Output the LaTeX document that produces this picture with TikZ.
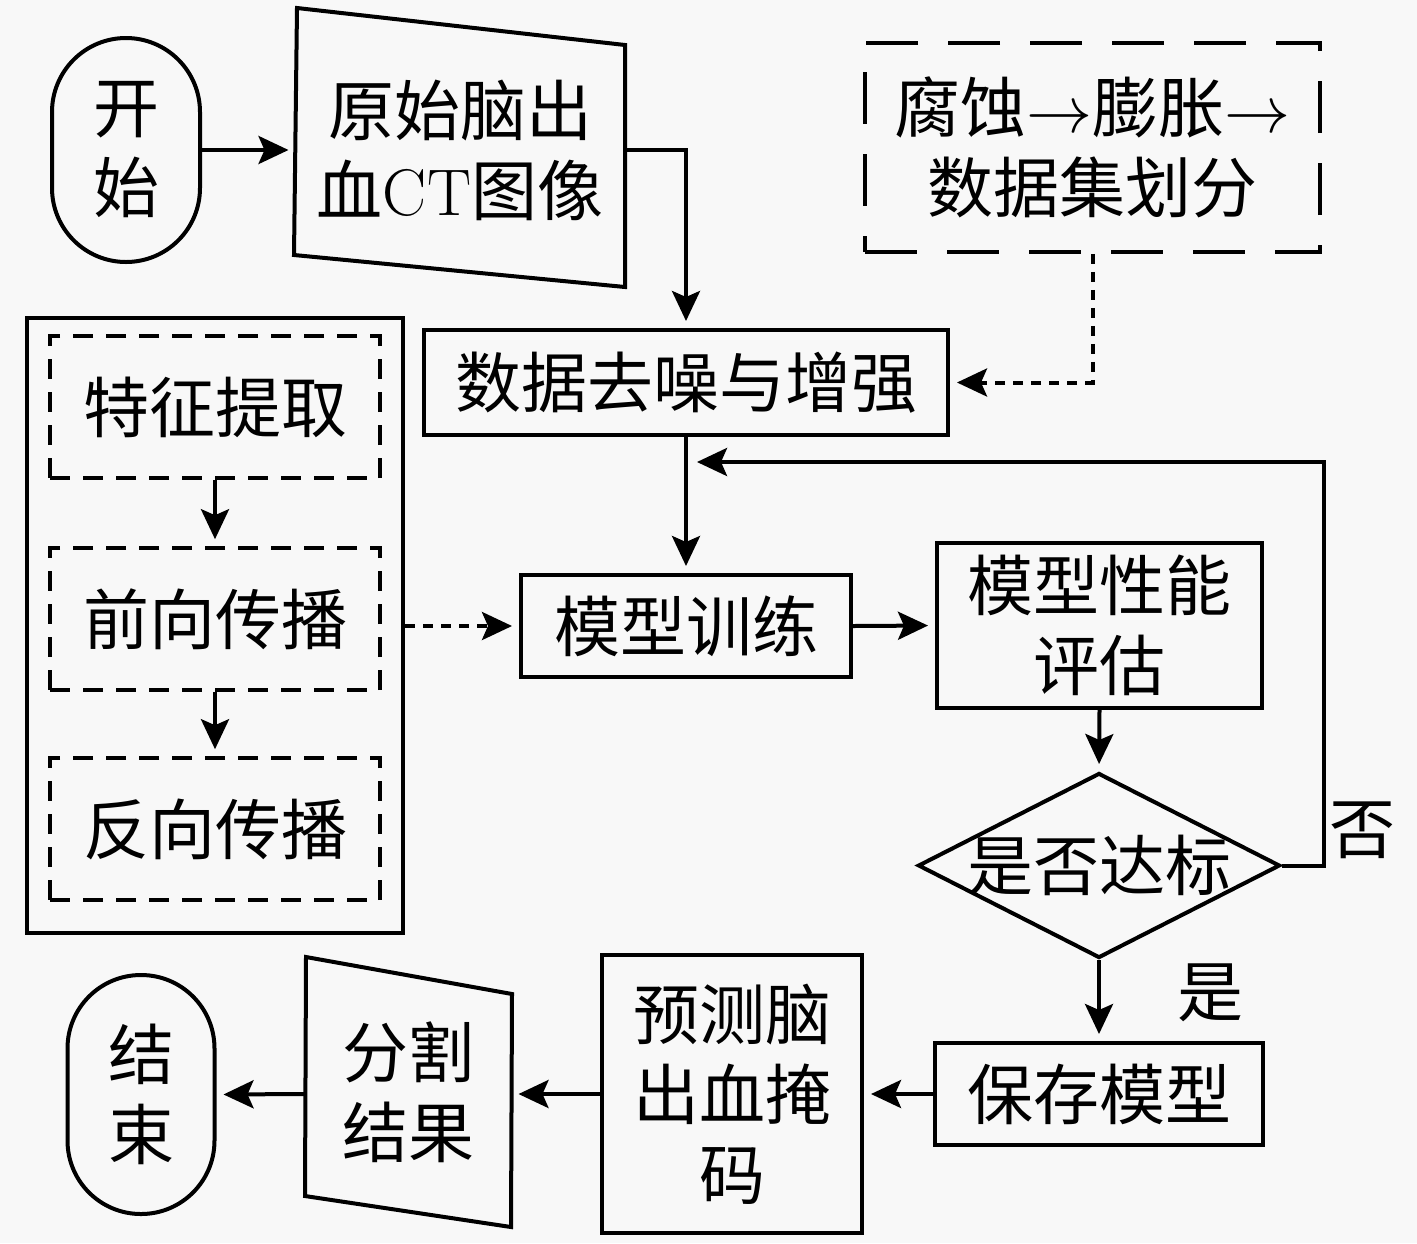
\RequirePackage{fix-cm}
\documentclass[tikz,border=0pt]{standalone}
\usepackage{fontspec}
\newfontfamily\cjk{Noto Sans CJK SC}
\usetikzlibrary{arrows.meta,shapes.geometric}
\definecolor{bg}{HTML}{F8F8F8}
\begin{document}
\begin{tikzpicture}[x=0.5pt,y=-0.5pt,
  every node/.style={font=\fontsize{33}{40}\selectfont\cjk, align=center, inner sep=0pt},
  lw/.style={line width=2pt},
  box/.style={draw, lw, rectangle},
  dbox/.style={draw, line width=1.8pt, rectangle, dash pattern=on 10pt off 6.5pt},
  abox/.style={draw, line width=1.8pt, rectangle, dash pattern=on 26pt off 15pt},
  arr/.style={lw, -{Stealth[length=15pt,width=14pt,inset=3pt]}, shorten >=3.5pt},
  darr/.style={arr, dash pattern=on 5pt off 4pt},
  lbl/.style={font=\fontsize{33}{40}\selectfont\cjk}]
\useasboundingbox[fill=bg] (0,0) rectangle (1417,1243);

% start / end
\node[box, minimum width=74pt, minimum height=112pt, rounded corners=37pt] (start) at (126,150) {开\\始};
\node[box, minimum width=73.5pt, minimum height=119.5pt, rounded corners=36.7pt] (end) at (141,1094.5) {结\\束};

% input trapezoid
\draw[lw] (297,8) -- (625,45) -- (625,287) -- (294,255) -- cycle;
\node (t1) at (460,150) {原始脑出\\血{\rmfamily CT}图像};
\coordinate (t1w) at (295.5,150);
\coordinate (t1e) at (625,150);

% augmentation (dashed)
\node[abox, minimum width=227.5pt, minimum height=104.5pt] (aug) at (1092.5,147.5) {腐蚀$\rightarrow$膨胀$\rightarrow$\\数据集划分};

% denoise
\node[box, minimum width=262pt, minimum height=52.5pt] (den) at (686,382.5) {数据去噪与增强};

% left panel
\node[box, minimum width=188pt, minimum height=307.5pt] (panel) at (215,625.5) {};
\node[dbox, minimum width=165pt, minimum height=71pt] (fe) at (215,407) {特征提取};
\node[dbox, minimum width=165pt, minimum height=71pt] (fp) at (215,619) {前向传播};
\node[dbox, minimum width=165pt, minimum height=71pt] (bp) at (215,829) {反向传播};

% training / evaluation
\node[box, minimum width=165pt, minimum height=51pt] (train) at (686,626) {模型训练};
\node[box, minimum width=162.5pt, minimum height=82.5pt] (eval) at (1099.5,625.5) {模型性能\\评估};

% decision
\node[draw, lw, diamond, minimum width=181pt, minimum height=92.5pt, inner sep=0pt] (dec) at (1099,865.5) {};
\node at (dec) {是否达标};

% save / predict / result
\node[box, minimum width=164pt, minimum height=51pt] (save) at (1099,1094) {保存模型};
\node[box, minimum width=130pt, minimum height=139pt] (pred) at (732,1094) {预测脑\\出血掩\\码};
\draw[lw] (306,957) -- (512,994) -- (511,1227) -- (305,1196) -- cycle;
\node (t2) at (408,1092) {分割\\结果};
\coordinate (t2e) at (511.5,1094);
\coordinate (t2w) at (305.5,1094);

% labels
\node[lbl] (no) at (1362,830) {否};
\node[lbl] (yes) at (1210,993) {是};

% connectors
\coordinate (fb) at (697,462);
\draw[arr] (start.east) -- (t1w);
\draw[arr] (t1e) -| (den.north);
\draw[darr] (aug.south) |- (den.east);
\draw[arr] (den.south) -- (train.north);
\draw[arr] (fe.south) -- (fp.north);
\draw[arr] (fp.south) -- (bp.north);
\draw[darr] (panel.east |- train.west) -- (train.west);
\draw[arr] (train.east) -- (eval.west);
\draw[arr] (eval.south) -- (dec.north);
\draw[lw, -{Stealth[length=15pt,width=14pt,inset=3pt]}] (dec.east) -- ++(42,0) |- (fb);
\draw[arr] (dec.south) -- (save.north);
\draw[arr] (save.west) -- (pred.east);
\draw[arr] (pred.west) -- (t2e);
\draw[arr] (t2w) -- (end.east);
\end{tikzpicture}
\end{document}
